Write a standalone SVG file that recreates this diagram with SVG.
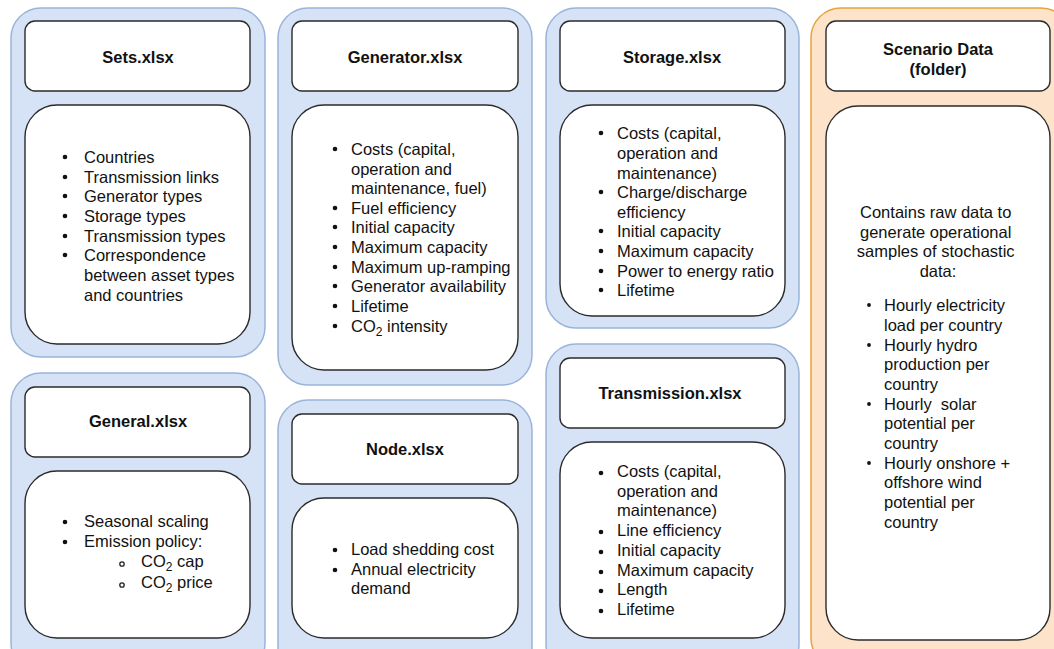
<svg xmlns="http://www.w3.org/2000/svg" width="1054" height="649" viewBox="0 0 1054 649">
  <style>
    .outer { fill: #d6e3f6; stroke: #9ab4d9; stroke-width: 1.5; }
    .outer-orange { fill: #fde3c9; stroke: #e6a43c; stroke-width: 1.5; }
    .box { fill: #ffffff; stroke: #2b2b2b; stroke-width: 1.4; }
    .title { font-family: "Liberation Sans", Arial, sans-serif; font-size: 16.5px; font-weight: bold; fill: #111; text-anchor: middle; }
    .item { font-family: "Liberation Sans", Arial, sans-serif; font-size: 16.5px; fill: #111; }
    .center { text-anchor: middle; }
    .dot { fill: #111; }
    .ring { fill: none; stroke: #222; stroke-width: 1.3; }
    .sub { font-size: 12px; }
  </style>
  <rect width="1054" height="649" fill="#ffffff"/>

  <!-- Sets.xlsx -->
  <g id="sets">
    <rect class="outer" x="11" y="8" width="254" height="349" rx="30"/>
    <rect class="box" x="25" y="21" width="225" height="70" rx="10"/>
    <text class="title" x="138" y="63">Sets.xlsx</text>
    <rect class="box" x="25" y="105" width="225" height="239" rx="32"/>
    <g class="dot">
      <circle cx="65" cy="157" r="2.3"/><circle cx="65" cy="177" r="2.3"/><circle cx="65" cy="196" r="2.3"/>
      <circle cx="65" cy="216" r="2.3"/><circle cx="65" cy="236" r="2.3"/><circle cx="65" cy="255" r="2.3"/>
    </g>
    <text class="item">
      <tspan x="84" y="163">Countries</tspan>
      <tspan x="84" y="183">Transmission links</tspan>
      <tspan x="84" y="202">Generator types</tspan>
      <tspan x="84" y="222">Storage types</tspan>
      <tspan x="84" y="242">Transmission types</tspan>
      <tspan x="84" y="261">Correspondence</tspan>
      <tspan x="84" y="281">between asset types</tspan>
      <tspan x="84" y="301">and countries</tspan>
    </text>
  </g>

  <!-- Generator.xlsx -->
  <g id="generator">
    <rect class="outer" x="278" y="8" width="254" height="377" rx="30"/>
    <rect class="box" x="292" y="21" width="226" height="70" rx="10"/>
    <text class="title" x="405" y="63">Generator.xlsx</text>
    <rect class="box" x="292" y="105" width="226" height="265" rx="32"/>
    <g class="dot">
      <circle cx="335" cy="149" r="2.3"/><circle cx="335" cy="208" r="2.3"/><circle cx="335" cy="227" r="2.3"/>
      <circle cx="335" cy="247" r="2.3"/><circle cx="335" cy="267" r="2.3"/><circle cx="335" cy="286" r="2.3"/>
      <circle cx="335" cy="306" r="2.3"/><circle cx="335" cy="326" r="2.3"/>
    </g>
    <text class="item">
      <tspan x="351" y="155">Costs (capital,</tspan>
      <tspan x="351" y="175">operation and</tspan>
      <tspan x="351" y="194">maintenance, fuel)</tspan>
      <tspan x="351" y="214">Fuel efficiency</tspan>
      <tspan x="351" y="233">Initial capacity</tspan>
      <tspan x="351" y="253">Maximum capacity</tspan>
      <tspan x="351" y="273">Maximum up-ramping</tspan>
      <tspan x="351" y="292">Generator availability</tspan>
      <tspan x="351" y="312">Lifetime</tspan>
      <tspan x="351" y="332">CO<tspan class="sub" dy="4">2</tspan><tspan dy="-4"> intensity</tspan></tspan>
    </text>
  </g>

  <!-- Storage.xlsx -->
  <g id="storage">
    <rect class="outer" x="546" y="8" width="253" height="320" rx="30"/>
    <rect class="box" x="560" y="21" width="225" height="70" rx="10"/>
    <text class="title" x="672" y="63">Storage.xlsx</text>
    <rect class="box" x="560" y="105" width="225" height="211" rx="32"/>
    <g class="dot">
      <circle cx="601" cy="133" r="2.3"/><circle cx="601" cy="192" r="2.3"/><circle cx="601" cy="231" r="2.3"/>
      <circle cx="601" cy="251" r="2.3"/><circle cx="601" cy="271" r="2.3"/><circle cx="601" cy="290" r="2.3"/>
    </g>
    <text class="item">
      <tspan x="617" y="139">Costs (capital,</tspan>
      <tspan x="617" y="159">operation and</tspan>
      <tspan x="617" y="179">maintenance)</tspan>
      <tspan x="617" y="198">Charge/discharge</tspan>
      <tspan x="617" y="218">efficiency</tspan>
      <tspan x="617" y="237">Initial capacity</tspan>
      <tspan x="617" y="257">Maximum capacity</tspan>
      <tspan x="617" y="277">Power to energy ratio</tspan>
      <tspan x="617" y="296">Lifetime</tspan>
    </text>
  </g>

  <!-- Scenario Data (folder) -->
  <g id="scenario">
    <rect class="outer-orange" x="811" y="8" width="260" height="660" rx="30"/>
    <rect class="box" x="826" y="21" width="224" height="70" rx="10"/>
    <text class="title"><tspan x="938" y="55">Scenario Data</tspan><tspan x="938" y="75">(folder)</tspan></text>
    <rect class="box" x="826" y="106" width="224" height="534" rx="32"/>
    <text class="item center">
      <tspan x="938" y="218">Contains raw data to</tspan>
      <tspan x="938" y="238">generate operational</tspan>
      <tspan x="938" y="257">samples of stochastic</tspan>
      <tspan x="938" y="277">data:</tspan>
    </text>
    <g class="dot">
      <circle cx="869" cy="305" r="1.9"/><circle cx="869" cy="345" r="1.9"/>
      <circle cx="869" cy="404" r="1.9"/><circle cx="869" cy="463" r="1.9"/>
    </g>
    <text class="item">
      <tspan x="884" y="311">Hourly electricity</tspan>
      <tspan x="884" y="331">load per country</tspan>
      <tspan x="884" y="351">Hourly hydro</tspan>
      <tspan x="884" y="370">production per</tspan>
      <tspan x="884" y="390">country</tspan>
      <tspan x="884" y="410">Hourly&#160; solar</tspan>
      <tspan x="884" y="429">potential per</tspan>
      <tspan x="884" y="449">country</tspan>
      <tspan x="884" y="469">Hourly onshore +</tspan>
      <tspan x="884" y="488">offshore wind</tspan>
      <tspan x="884" y="508">potential per</tspan>
      <tspan x="884" y="528">country</tspan>
    </text>
  </g>

  <!-- General.xlsx -->
  <g id="general">
    <rect class="outer" x="11" y="373" width="254" height="300" rx="30"/>
    <rect class="box" x="25" y="387" width="225" height="70" rx="10"/>
    <text class="title" x="138" y="427">General.xlsx</text>
    <rect class="box" x="25" y="471" width="225" height="167" rx="32"/>
    <g class="dot"><circle cx="65" cy="522" r="2.3"/><circle cx="65" cy="542" r="2.3"/></g>
    <circle class="ring" cx="122" cy="564" r="2.2"/>
    <circle class="ring" cx="122" cy="585" r="2.2"/>
    <text class="item">
      <tspan x="84" y="527">Seasonal scaling</tspan>
      <tspan x="84" y="547">Emission policy:</tspan>
      <tspan x="141" y="567">CO<tspan class="sub" dy="4">2</tspan><tspan dy="-4"> cap</tspan></tspan>
      <tspan x="141" y="588">CO<tspan class="sub" dy="4">2</tspan><tspan dy="-4"> price</tspan></tspan>
    </text>
  </g>

  <!-- Node.xlsx -->
  <g id="node">
    <rect class="outer" x="278" y="400" width="254" height="280" rx="30"/>
    <rect class="box" x="292" y="414" width="226" height="70" rx="10"/>
    <text class="title" x="405" y="455">Node.xlsx</text>
    <rect class="box" x="292" y="498" width="226" height="140" rx="32"/>
    <g class="dot"><circle cx="335" cy="550" r="2.3"/><circle cx="335" cy="570" r="2.3"/></g>
    <text class="item">
      <tspan x="351" y="555">Load shedding cost</tspan>
      <tspan x="351" y="575">Annual electricity</tspan>
      <tspan x="351" y="594">demand</tspan>
    </text>
  </g>

  <!-- Transmission.xlsx -->
  <g id="transmission">
    <rect class="outer" x="546" y="344" width="253" height="330" rx="30"/>
    <rect class="box" x="560" y="358" width="225" height="70" rx="10"/>
    <text class="title" x="670" y="399">Transmission.xlsx</text>
    <rect class="box" x="560" y="442" width="225" height="196" rx="32"/>
    <g class="dot">
      <circle cx="601" cy="473" r="2.3"/><circle cx="601" cy="532" r="2.3"/><circle cx="601" cy="552" r="2.3"/>
      <circle cx="601" cy="572" r="2.3"/><circle cx="601" cy="591" r="2.3"/><circle cx="601" cy="611" r="2.3"/>
    </g>
    <text class="item">
      <tspan x="617" y="477">Costs (capital,</tspan>
      <tspan x="617" y="497">operation and</tspan>
      <tspan x="617" y="516">maintenance)</tspan>
      <tspan x="617" y="536">Line efficiency</tspan>
      <tspan x="617" y="556">Initial capacity</tspan>
      <tspan x="617" y="576">Maximum capacity</tspan>
      <tspan x="617" y="595">Length</tspan>
      <tspan x="617" y="615">Lifetime</tspan>
    </text>
  </g>

  <!-- no connectors are drawn between the panels -->
  <g id="connectors"/>
</svg>
